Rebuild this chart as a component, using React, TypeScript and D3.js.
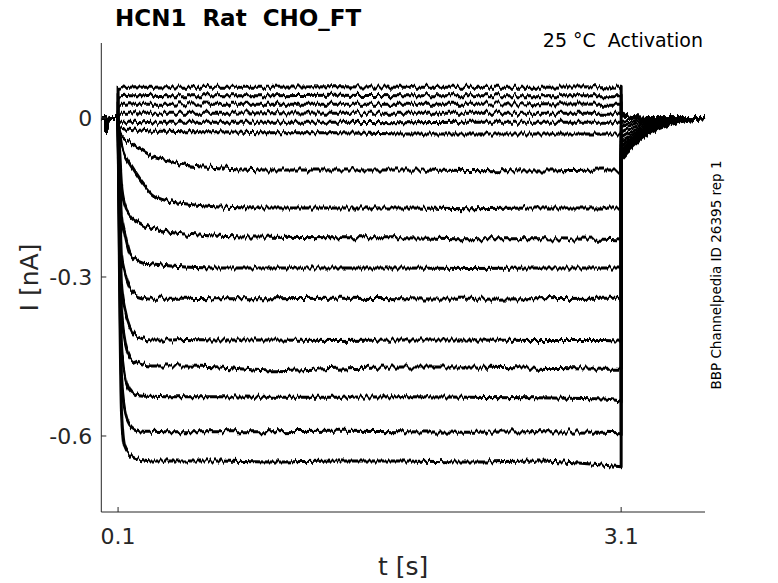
import React from "react";
import * as d3 from "d3";

// time grids [s]
const timePre = [0, 0.025, 0.03, 0.035, 0.04, 0.05, 0.1];
const timePulse = [0.1, 0.11, 0.12, 0.14, 0.17, 0.2, 0.25, 0.3, 0.4, 0.5, 0.7, 1.0, 1.4, 1.8, 2.2, 2.6, 3.0, 3.1];
const timeTail = [3.1, 3.11, 3.13, 3.16, 3.2, 3.25, 3.3, 3.4, 3.5, 3.6];

// holding current before the step [nA]
const currentPre = [0, 0, -0.026, -0.012, -0.004, 0, 0];

// current during the test pulse, one row per sweep [nA]
const currentPulse = [
  [0.058, 0.058, 0.059, 0.058, 0.058, 0.059, 0.058, 0.058, 0.059, 0.058, 0.058, 0.058, 0.059, 0.058, 0.058, 0.058, 0.059, 0.058],
  [0.042, 0.042, 0.042, 0.043, 0.042, 0.042, 0.042, 0.043, 0.042, 0.042, 0.042, 0.042, 0.043, 0.042, 0.042, 0.042, 0.042, 0.042],
  [0.026, 0.026, 0.026, 0.026, 0.027, 0.026, 0.026, 0.026, 0.026, 0.027, 0.026, 0.026, 0.026, 0.026, 0.026, 0.027, 0.026, 0.026],
  [0.009, 0.009, 0.009, 0.009, 0.009, 0.010, 0.009, 0.009, 0.009, 0.009, 0.009, 0.010, 0.009, 0.009, 0.009, 0.009, 0.009, 0.009],
  [-0.008, -0.008, -0.008, -0.008, -0.008, -0.008, -0.009, -0.008, -0.008, -0.008, -0.008, -0.008, -0.008, -0.009, -0.008, -0.008, -0.008, -0.008],
  [-0.019, -0.019, -0.019, -0.021, -0.021, -0.023, -0.023, -0.025, -0.025, -0.026, -0.026, -0.028, -0.028, -0.030, -0.030, -0.030, -0.030, -0.030],
  [-0.013, -0.028, -0.034, -0.040, -0.045, -0.053, -0.062, -0.072, -0.081, -0.089, -0.094, -0.098, -0.098, -0.098, -0.099, -0.100, -0.098, -0.098],
  [-0.013, -0.032, -0.051, -0.070, -0.087, -0.102, -0.125, -0.143, -0.157, -0.162, -0.168, -0.170, -0.170, -0.170, -0.171, -0.170, -0.170, -0.170],
  [-0.013, -0.070, -0.126, -0.164, -0.183, -0.192, -0.202, -0.208, -0.215, -0.219, -0.223, -0.225, -0.226, -0.226, -0.228, -0.228, -0.229, -0.230],
  [-0.013, -0.108, -0.183, -0.217, -0.255, -0.266, -0.274, -0.275, -0.279, -0.281, -0.283, -0.283, -0.283, -0.283, -0.284, -0.283, -0.283, -0.283],
  [-0.013, -0.145, -0.258, -0.291, -0.321, -0.332, -0.338, -0.340, -0.340, -0.340, -0.341, -0.341, -0.340, -0.341, -0.342, -0.341, -0.340, -0.340],
  [-0.013, -0.183, -0.315, -0.362, -0.394, -0.409, -0.417, -0.419, -0.419, -0.418, -0.419, -0.419, -0.420, -0.419, -0.419, -0.420, -0.420, -0.421],
  [-0.013, -0.221, -0.362, -0.419, -0.451, -0.460, -0.466, -0.468, -0.468, -0.468, -0.470, -0.477, -0.472, -0.470, -0.470, -0.472, -0.474, -0.474],
  [-0.013, -0.258, -0.428, -0.485, -0.513, -0.521, -0.525, -0.525, -0.526, -0.526, -0.526, -0.527, -0.527, -0.526, -0.527, -0.528, -0.530, -0.534],
  [-0.013, -0.296, -0.485, -0.551, -0.579, -0.587, -0.591, -0.591, -0.592, -0.592, -0.592, -0.592, -0.591, -0.592, -0.593, -0.592, -0.593, -0.594],
  [-0.013, -0.343, -0.551, -0.621, -0.636, -0.642, -0.645, -0.647, -0.647, -0.647, -0.647, -0.649, -0.647, -0.647, -0.649, -0.647, -0.655, -0.658],
];

// tail current after the step back [nA]
const currentTail = [
  [0.008, 0.007, 0.005, 0.003, 0.002, 0.001, 0, 0, 0, 0],
  [0.007, 0.006, 0.004, 0.003, 0.002, 0.001, 0, 0, 0, 0],
  [0.006, 0.005, 0.004, 0.002, 0.001, 0.001, 0, 0, 0, 0],
  [0.004, 0.003, 0.002, 0.001, 0.001, 0, 0, 0, 0, 0],
  [0.002, 0.002, 0.001, 0.001, 0, 0, 0, 0, 0, 0],
  [-0.008, -0.008, -0.007, -0.006, -0.004, -0.003, -0.002, -0.001, 0, 0],
  [-0.016, -0.015, -0.014, -0.012, -0.009, -0.007, -0.005, -0.002, -0.001, 0],
  [-0.026, -0.025, -0.022, -0.019, -0.015, -0.011, -0.008, -0.004, -0.001, 0],
  [-0.035, -0.034, -0.030, -0.026, -0.021, -0.015, -0.011, -0.005, -0.002, 0],
  [-0.044, -0.042, -0.038, -0.032, -0.026, -0.019, -0.014, -0.007, -0.002, -0.001],
  [-0.051, -0.049, -0.044, -0.038, -0.030, -0.022, -0.016, -0.008, -0.003, -0.001],
  [-0.058, -0.056, -0.050, -0.043, -0.034, -0.025, -0.018, -0.009, -0.003, -0.001],
  [-0.064, -0.061, -0.055, -0.047, -0.037, -0.027, -0.020, -0.010, -0.003, -0.001],
  [-0.068, -0.065, -0.059, -0.050, -0.040, -0.029, -0.021, -0.011, -0.004, -0.001],
  [-0.072, -0.069, -0.062, -0.053, -0.042, -0.031, -0.022, -0.011, -0.004, -0.001],
  [-0.076, -0.073, -0.066, -0.057, -0.045, -0.033, -0.024, -0.012, -0.004, -0.001],
];

const xTicks = [0.1, 3.1];
const yTicks = [0, -0.3, -0.6];

const width = 778;
const height = 583;
const plot = { left: 101.3, right: 705, top: 43, bottom: 512 };
const axisColor = "#262626";
const font = "DejaVu Sans, sans-serif";

export default function App() {
  const x = d3.scaleLinear().domain([0, 3.6]).range([plot.left, plot.right]);
  const y = d3.scaleLinear().domain([0.1415, -0.7434]).range([plot.top, plot.bottom]);

  const straight = d3
    .line<[number, number]>()
    .x((d) => x(d[0]))
    .y((d) => y(d[1]));
  const smooth = d3
    .line<[number, number]>()
    .x((d) => x(d[0]))
    .y((d) => y(d[1]))
    .curve(d3.curveMonotoneX);

  // one path per sweep: holding, step, pulse, step back, tail
  const sweeps = currentPulse.map((pulse, i) => {
    const pre = straight(timePre.map((t, j) => [t, currentPre[j]]));
    const mid = smooth(timePulse.map((t, j) => [t, pulse[j]]));
    const tail = smooth(timeTail.map((t, j) => [t, currentTail[i][j]]));
    return pre + mid.replace(/^M/, "L") + tail.replace(/^M/, "L");
  });

  return (
    <svg
      width={width}
      height={height}
      style={{ position: "absolute", left: 0, top: 0, background: "#fff" }}
      fontFamily={font}
    >
      <defs>
        {/* recording-noise texture: vertical jitter only */}
        <filter
          id="noise"
          filterUnits="userSpaceOnUse"
          x={90}
          y={30}
          width={630}
          height={480}
          colorInterpolationFilters="sRGB"
        >
          <feTurbulence type="fractalNoise" baseFrequency="0.35 0.015" numOctaves={2} result="turb" />
          <feColorMatrix
            in="turb"
            type="matrix"
            values="0 0 0 0 0.5  0 1 0 0 0  0 0 0 0 0  0 0 0 0 1"
            result="shift"
          />
          <feDisplacementMap in="SourceGraphic" in2="shift" scale={9} xChannelSelector="R" yChannelSelector="G" />
        </filter>
      </defs>

      {/* sweeps */}
      <g filter="url(#noise)" fill="none" stroke="#000" strokeWidth={3} strokeLinejoin="round">
        {sweeps.map((d, i) => (
          <path key={i} d={d} />
        ))}
      </g>

      {/* axes */}
      <g stroke={axisColor} strokeWidth={1} fill="none">
        <line x1={plot.left} x2={plot.left} y1={plot.top} y2={plot.bottom} />
        <line x1={plot.left} x2={plot.right} y1={plot.bottom} y2={plot.bottom} />
        {yTicks.map((t) => (
          <line key={t} x1={plot.left} x2={plot.left + 5} y1={y(t)} y2={y(t)} />
        ))}
        {xTicks.map((t) => (
          <line key={t} x1={x(t)} x2={x(t)} y1={plot.bottom} y2={plot.bottom - 5} />
        ))}
      </g>
      <g fill={axisColor} fontSize={22}>
        {yTicks.map((t) => (
          <text key={t} x={plot.left - 9} y={y(t)} dy="0.36em" textAnchor="end">
            {t === 0 ? "0" : t.toFixed(1)}
          </text>
        ))}
        {xTicks.map((t) => (
          <text key={t} x={x(t)} y={544} textAnchor="middle">
            {t}
          </text>
        ))}
      </g>
      <text x={(plot.left + plot.right) / 2} y={575} textAnchor="middle" fontSize={25} fill={axisColor}>
        t [s]
      </text>
      <text
        transform={`translate(38,${(plot.top + plot.bottom) / 2}) rotate(-90)`}
        textAnchor="middle"
        fontSize={25}
        fill={axisColor}
      >
        I [nA]
      </text>

      {/* titles */}
      <text x={115} y={26} fontSize={23} fontWeight="bold" fill="#000" style={{ whiteSpace: "pre" }}>
        {"HCN1  Rat  CHO_FT"}
      </text>
      <text x={703} y={47} fontSize={19} textAnchor="end" fill="#000" style={{ whiteSpace: "pre" }}>
        {"25 °C  Activation"}
      </text>
      <text transform={`translate(721,275) rotate(-90)`} textAnchor="middle" fontSize={13.5} fill="#000">
        BBP Channelpedia ID 26395 rep 1
      </text>
    </svg>
  );
}
